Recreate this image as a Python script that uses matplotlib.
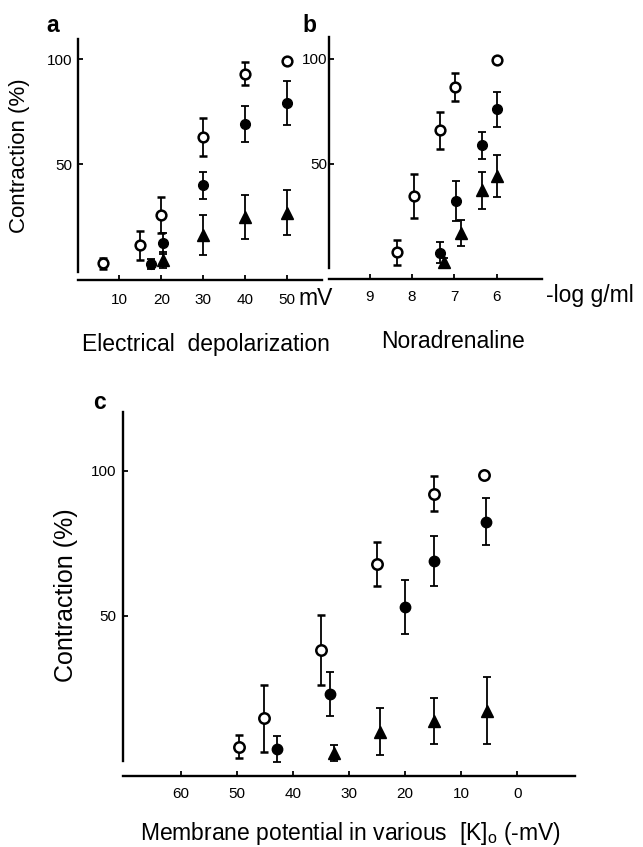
import numpy as np
import matplotlib
matplotlib.use("Agg")
import matplotlib.pyplot as plt

plt.rcParams['font.family'] = ['Liberation Sans', 'DejaVu Sans']
plt.rcParams['mathtext.fontset'] = 'custom'
plt.rcParams['mathtext.rm'] = 'Liberation Sans'

# ---------------- data ----------------
# panel a: electrical depolarization (mV)
a_open_x = [6, 15, 20, 30, 40, 50]
a_open_y = [3, 11.5, 26, 63, 93, 99]
a_open_e = [2.5, 7, 8.5, 9, 5.5, 0]
a_fill_x = [17.5, 20.5, 30, 40, 50]
a_fill_y = [2.7, 12.5, 40, 69, 79]
a_fill_e = [2.5, 5, 6.5, 8.5, 10.5]
a_tri_x = [20.5, 30, 40, 50]
a_tri_y = [4.5, 16.5, 25, 27]
a_tri_e = [3.8, 9.6, 10.4, 10.7]
a_xticks = [10, 20, 30, 40, 50]

# panel b: noradrenaline (-log g/ml)
b_open_x = [8.35, 7.95, 7.33, 6.99, 6.0]
b_open_y = [7.7, 34.5, 65.8, 86.3, 99.2]
b_open_e = [6, 10.6, 9, 6.7, 0]
b_fill_x = [7.34, 6.97, 6.34, 5.99]
b_fill_y = [7.4, 32.2, 58.7, 75.9]
b_fill_e = [5, 9.5, 6.3, 8.4]
b_tri_x = [7.25, 6.85, 6.34, 6.0]
b_tri_y = [3, 16.7, 37.2, 44]
b_tri_e = [2, 6.2, 8.8, 9.9]
b_xticks = [9, 8, 7, 6]

# panel c: membrane potential in various [K]o (-mV)
c_open_x = [49.6, 45.1, 35.0, 25.0, 14.9, 5.9]
c_open_y = [4.9, 14.7, 38.3, 67.9, 92.1, 98.5]
c_open_e = [4, 11.6, 12, 7.5, 6, 0]
c_fill_x = [42.8, 33.3, 20.0, 14.8, 5.6]
c_fill_y = [4, 23, 53.2, 69, 82.5]
c_fill_e = [4.5, 7.6, 9.3, 8.7, 8]
c_tri_x = [32.7, 24.5, 14.9, 5.3]
c_tri_y = [2.7, 10.1, 13.8, 17.3]
c_tri_e = [2.7, 8.2, 8, 11.6]
c_xticks = [60, 50, 40, 30, 20, 10, 0]

yticks = [50, 100]

# ---------------- figure ----------------
W, H = 643, 847
fig = plt.figure(figsize=(W / 100, H / 100), dpi=100)


def add_ax(l, r, t, b):
    return fig.add_axes([l / W, 1 - b / H, (r - l) / W, (b - t) / H])


def ftext(x, y, s, **kw):
    fig.text(x / W, 1 - y / H, s, **kw)


def style(ax, xpad, ypad):
    for s in ('top', 'right'):
        ax.spines[s].set_visible(False)
    for s in ('left', 'bottom'):
        ax.spines[s].set_linewidth(1.7)
    ax.tick_params(axis='both', direction='in', length=3.5, width=1.3,
                   labelsize=11)
    ax.tick_params(axis='x', pad=xpad)
    ax.tick_params(axis='y', pad=ypad)
    ax.set_yticks(yticks)
    ax.patch.set_alpha(0)


def plot_series(ax, ox, oy, oe, fx, fy, fe, tx, ty, te, ms=7, tms=8):
    common = dict(ecolor='black', elinewidth=1.3, capsize=2.7, capthick=1.3,
                  linestyle='none')
    ax.errorbar(tx, ty, yerr=te, marker='^', ms=tms, mfc='black', mec='black',
                **common)
    ax.errorbar(fx, fy, yerr=fe, marker='o', ms=ms, mfc='black', mec='black',
                **common)
    ax.errorbar(ox, oy, yerr=oe, marker='o', ms=ms, mfc='white', mec='black',
                mew=1.8, **common)


# panel a
axa = add_ax(77.5, 322, 39.5, 280)
style(axa, 9.0, 4)
axa.set_xlim(0, 58.3)
axa.set_ylim(-4.9, 109.3)
axa.spines['left'].set_bounds(-1, 109.3)
axa.set_xticks(a_xticks)
plot_series(axa, a_open_x, a_open_y, a_open_e, a_fill_x, a_fill_y, a_fill_e,
            a_tri_x, a_tri_y, a_tri_e)

# panel b
axb = add_ax(329.3, 541.7, 36.7, 279.3)
style(axb, 8.0, 1.5)
axb.set_xlim(9.96, 4.93)
axb.set_ylim(-5.2, 110.5)
axb.spines['left'].set_bounds(0, 110.5)
axb.set_xticks(b_xticks)
plot_series(axb, b_open_x, b_open_y, b_open_e, b_fill_x, b_fill_y, b_fill_e,
            b_tri_x, b_tri_y, b_tri_e)

# panel c
axc = add_ax(122.7, 575, 411.7, 775.5)
style(axc, 8.0, 4.5)
axc.set_xlim(70.3, -10.3)
axc.set_ylim(-5, 120.4)
axc.spines['left'].set_bounds(0, 120.4)
axc.set_xticks(c_xticks)
plot_series(axc, c_open_x, c_open_y, c_open_e, c_fill_x, c_fill_y, c_fill_e,
            c_tri_x, c_tri_y, c_tri_e, ms=7.5, tms=8.5)

# ---------------- texts ----------------
ftext(53, 26, 'a', fontsize=16.5, fontweight='bold', ha='center', va='center')
ftext(309, 26, 'b', fontsize=16.5, fontweight='bold', ha='center', va='center')
ftext(100, 402, 'c', fontsize=16.5, fontweight='bold', ha='center', va='center')

ftext(20, 156, 'Contraction (%)', fontsize=16, rotation=90, ha='center', va='center')
ftext(206, 351, 'Electrical  depolarization', fontsize=16.5, ha='center', va='baseline')
ftext(453, 348, 'Noradrenaline', fontsize=16.5, ha='center', va='baseline')
ftext(298, 305, 'mV', fontsize=16.5, ha='left', va='baseline')
ftext(546, 302, '-log g/ml', fontsize=16.5, ha='left', va='baseline')

ftext(66, 595, 'Contraction (%)', fontsize=18, rotation=90, ha='center', va='center')
ftext(350, 840, r'Membrane potential in various  [K]$_\mathregular{o}$ (-mV)',
      fontsize=16.5, ha='center', va='baseline')

fig.savefig('out.png', dpi=100)
